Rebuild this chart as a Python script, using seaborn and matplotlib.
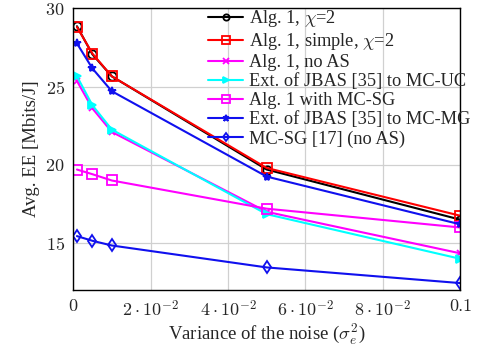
import matplotlib
matplotlib.use("Agg")
import matplotlib.pyplot as plt
import seaborn as sns
import numpy as np

noise = [0.001, 0.005, 0.01, 0.05, 0.1]
alg1_chi2 = [28.85, 27.05, 25.65, 19.7, 16.5]
alg1_simple = [28.8, 27.1, 25.65, 19.8, 16.75]
alg1_noas = [25.35, 23.6, 22.1, 17.0, 14.35]
jbas_uc = [25.65, 23.8, 22.25, 16.85, 14.0]
alg1_mcsg = [19.7, 19.4, 19.0, 17.2, 16.0]
jbas_mg = [27.75, 26.15, 24.7, 19.25, 16.2]
mcsg_noas = [15.45, 15.15, 14.85, 13.45, 12.45]

labels = ["Alg. 1, $\\chi$=2", "Alg. 1, simple, $\\chi$=2", "Alg. 1, no AS",
          "Ext. of JBAS [35] to MC-UC", "Alg. 1 with MC-SG",
          "Ext. of JBAS [35] to MC-MG", "MC-SG [17] (no AS)"]
xtick_vals = [0, 0.02, 0.04, 0.06, 0.08, 0.1]
xtick_labels = ["0", r"$2 \cdot 10^{-2}$", r"$4 \cdot 10^{-2}$", r"$6 \cdot 10^{-2}$",
                r"$8 \cdot 10^{-2}$", "0.1"]
ytick_vals = [15, 20, 25, 30]

sns.set_style("whitegrid")
plt.rcParams["font.family"] = ["cmr10", "DejaVu Serif"]
plt.rcParams["mathtext.fontset"] = "cm"
plt.rcParams["axes.formatter.use_mathtext"] = True

times = ["Liberation Serif", "DejaVu Serif"]

fig, ax = plt.subplots(figsize=(4.84, 3.56), dpi=100)

series = [alg1_chi2, alg1_simple, alg1_noas, jbas_uc, alg1_mcsg, jbas_mg, mcsg_noas]
styles = [
    dict(color="black", marker="o", mfc="none", ms=6),
    dict(color="red", marker="s", mfc="none", ms=7),
    dict(color="magenta", marker="x", ms=5),
    dict(color="cyan", marker=">", ms=6),
    dict(color="magenta", marker="s", mfc="none", ms=7),
    dict(color="#1010ee", marker="*", ms=6),
    dict(color="#1010ee", marker="d", mfc="none", ms=6),
]
for vals, lab, st in zip(series, labels, styles):
    sns.lineplot(x=noise, y=vals, ax=ax, label=lab, color=st["color"],
                 marker=st["marker"], markersize=st["ms"],
                 markerfacecolor=st.get("mfc", st["color"]),
                 markeredgecolor=st["color"], markeredgewidth=1.3,
                 linewidth=1.5)

ax.set_xlim(0, 0.1)
ax.set_ylim(12, 30)
ax.set_xticks(xtick_vals)
ax.set_xticklabels(xtick_labels)
ax.set_yticks(ytick_vals)
ax.tick_params(labelsize=13, length=0, pad=6)
ax.grid(True, color="#d0d0d0", linewidth=0.9)
for s in ax.spines.values():
    s.set_color("black")
    s.set_linewidth(1.0)
ax.set_xlabel(r"Variance of the noise ($\sigma_e^2$)", fontsize=13.5, family=times,
              labelpad=2)
ax.set_ylabel("Avg. EE [Mbits/J]", fontsize=13.5, family=times)
leg = ax.legend(loc="upper left", bbox_to_anchor=(0.349, 1.0),
                prop={"family": times, "size": 13.2}, frameon=False,
                borderpad=0.0, labelspacing=0.11, handlelength=1.9,
                handletextpad=0.3, borderaxespad=0.0, markerscale=0.75)

fig.subplots_adjust(left=0.151, right=0.951, top=0.977, bottom=0.185)
fig.savefig("out.png", dpi=100)
